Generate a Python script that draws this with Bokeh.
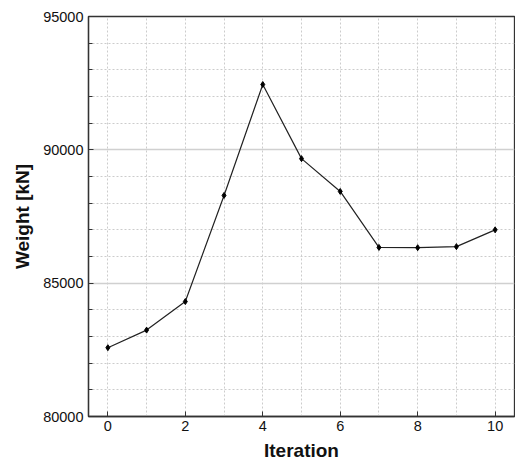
from bokeh.plotting import figure
from bokeh.models import FixedTicker, Range1d
from bokeh.embed import file_html
from bokeh.resources import INLINE

iterations = [0, 1, 2, 3, 4, 5, 6, 7, 8, 9, 10]
weight = [82580, 83240, 84310, 88290, 92450, 89670, 88440, 86340, 86330, 86370, 87000]

x_ticks = [0, 2, 4, 6, 8, 10]
x_grid = [0, 1, 2, 3, 4, 5, 6, 7, 8, 9, 10]
y_ticks = [80000, 85000, 90000, 95000]
y_minor = [81000, 82000, 83000, 84000, 86000, 87000, 88000, 89000,
           91000, 92000, 93000, 94000]

p = figure(width=515, height=463, output_backend="svg", toolbar_location=None,
           x_range=Range1d(-0.5, 10.5), y_range=Range1d(80000, 95000),
           min_border_left=88, min_border_right=1, min_border_top=16, min_border_bottom=45)

p.background_fill_color = "white"
p.border_fill_color = "white"
p.outline_line_color = "#333333"
p.outline_line_width = 1.3

# grids
p.xgrid.ticker = FixedTicker(ticks=x_grid)
p.xgrid.grid_line_color = "#cccccc"
p.xgrid.grid_line_dash = "2 2"
p.xgrid.grid_line_width = 1

p.ygrid.ticker = FixedTicker(ticks=y_ticks, minor_ticks=y_minor)
p.ygrid.grid_line_color = "#d0d0d0"
p.ygrid.grid_line_width = 1.5
p.ygrid.minor_grid_line_color = "#cccccc"
p.ygrid.minor_grid_line_dash = "2 2"
p.ygrid.minor_grid_line_width = 1

# axes
p.xaxis.ticker = FixedTicker(ticks=x_ticks)
p.yaxis.ticker = FixedTicker(ticks=y_ticks, minor_ticks=y_minor)
for ax in (p.xaxis[0], p.yaxis[0]):
    ax.axis_line_color = "#333333"
    ax.axis_line_width = 1.3
    ax.major_tick_in = 5
    ax.major_tick_out = 0
    ax.major_tick_line_color = "#333333"
    ax.minor_tick_in = 4
    ax.minor_tick_out = 0
    ax.minor_tick_line_color = "#333333"
    ax.major_label_text_font = "Liberation Sans"
    ax.major_label_text_font_size = "14.5px"
    ax.major_label_text_color = "#111111"
    ax.axis_label_text_font = "Liberation Sans"
    ax.axis_label_text_font_style = "bold"
    ax.axis_label_text_font_size = "19px"
    ax.axis_label_text_color = "#111111"
p.xaxis.minor_tick_in = 0
p.xaxis.major_label_standoff = 4
p.yaxis.major_label_standoff = 5
p.xaxis.axis_label = "Iteration"
p.yaxis.axis_label = "Weight [kN]"
p.xaxis.axis_label_standoff = 6
p.yaxis.axis_label_standoff = 7
p.yaxis.major_label_orientation = "horizontal"

p.line(iterations, weight, line_color="#222222", line_width=1.2)
p.scatter(iterations, weight, marker="diamond", size=6, fill_color="black", line_color="black")

open("out.html", "w").write(file_html(p, INLINE))
